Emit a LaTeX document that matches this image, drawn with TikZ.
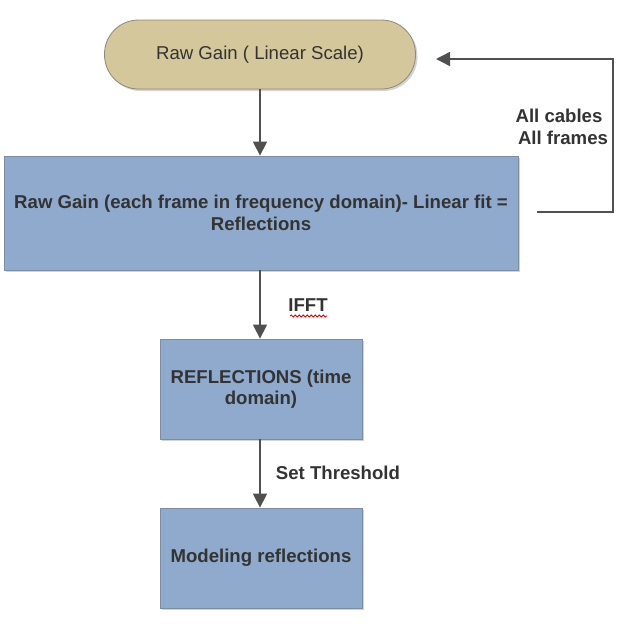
\documentclass[tikz,border=0pt]{standalone}
\usepackage{fontspec}
\setmainfont{Liberation Sans}
\usepackage{xcolor}
\usetikzlibrary{arrows.meta}
\usetikzlibrary{shadows}
\usetikzlibrary{decorations.pathmorphing}

\definecolor{pillfill}{HTML}{D4C79C}
\definecolor{pillline}{HTML}{8C887A}
\definecolor{boxfill}{HTML}{8FAACD}
\definecolor{boxline}{HTML}{7C8DA3}
\definecolor{arrowgray}{HTML}{505050}
\definecolor{textgray}{HTML}{333333}

\tikzset{
    flowbox/.style={draw=boxline,fill=boxfill,thick,align=center,text=textgray,
        font=\fontsize{18.6}{21.5}\selectfont\bfseries,
        drop shadow={opacity=0.35,shadow xshift=2pt,shadow yshift=-2pt}},
    startpill/.style={draw=pillline,fill=pillfill,thick,rounded corners=34pt,
        text=textgray,font=\fontsize{18.6}{21.5}\selectfont,
        minimum width=311pt,minimum height=69pt,
        drop shadow={opacity=0.35,shadow xshift=2pt,shadow yshift=-2pt}},
    flowarrow/.style={arrowgray,line width=1.4pt,-{Triangle[width=14pt,length=14pt]}},
    steplabel/.style={text=textgray,font=\fontsize{18.6}{21.5}\selectfont\bfseries,align=center}
}

\begin{document}
\begin{tikzpicture}[x=1pt,y=-1pt]
            \useasboundingbox (0,0) rectangle (633,638);

            \node[startpill] (rawgain) at (260,54.5){Raw Gain ( Linear Scale)};
            \node[flowbox,minimum width=514pt,minimum height=114pt] (linfit) at (261,213)
                {Raw Gain (each frame in frequency domain)- Linear fit =\\Reflections};
            \node[flowbox,minimum width=202pt,minimum height=100pt] (timedom) at (261,389)
                {REFLECTIONS (time\\domain)};
            \node[flowbox,minimum width=202pt,minimum height=100pt] (modeling) at (261,558)
                {Modeling reflections};

            \draw[flowarrow] (rawgain.south) -- (linfit.north -| rawgain.south);
            \draw[flowarrow] (linfit.south -| rawgain.south) -- (timedom.north -| rawgain.south);
            \draw[flowarrow] (timedom.south -| rawgain.south) -- (modeling.north -| rawgain.south);

            % loop back over all cables and frames
            \coordinate (loopstart) at (537,212);
            \coordinate (loopend) at (436,59);
            \draw[flowarrow] (loopstart) -- (613,212) |- (loopend);

            \node[steplabel] (allcab) at (559,127){All cables\\\hspace{8pt}All frames};
            \node[steplabel] (ifft) at (308,305){IFFT};
            \draw[red!85!black,line width=0.8pt,decorate,decoration={snake,segment length=4pt,amplitude=1pt}]
                (290,316) -- (327,316);
            \node[steplabel] (thresh) at (338,473){Set Threshold};
        \end{tikzpicture}
\end{document}
